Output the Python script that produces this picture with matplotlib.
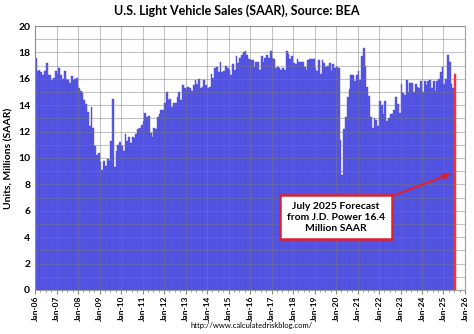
import matplotlib.pyplot as plt
import numpy as np

plt.rcParams['font.family'] = ['Lato', 'DejaVu Sans']

# monthly light vehicle sales, SAAR, millions (Jan..Dec)
s2006 = [17.6, 16.6, 16.7, 16.5, 16.3, 16.6, 17.2, 16.3, 16.3, 15.9, 16.1, 16.6]
s2007 = [16.4, 16.8, 16.3, 16.0, 16.6, 16.0, 15.9, 15.7, 16.2, 15.9, 16.0, 16.1]
s2008 = [15.3, 15.1, 14.9, 14.4, 14.1, 13.5, 12.4, 13.9, 12.3, 10.9, 10.2, 10.4]
s2009 = [9.7, 9.1, 9.8, 9.4, 9.9, 9.8, 11.3, 14.5, 9.3, 10.5, 11.0, 11.2]
s2010 = [10.9, 10.5, 11.8, 11.3, 11.6, 11.1, 11.6, 11.5, 11.8, 12.2, 12.3, 12.5]
s2011 = [12.8, 13.4, 13.1, 13.2, 11.9, 11.6, 12.3, 12.2, 13.1, 13.3, 13.6, 13.6]
s2012 = [14.2, 15.0, 14.4, 14.5, 13.9, 14.2, 14.2, 14.6, 15.0, 14.4, 15.5, 15.3]
s2013 = [15.2, 15.4, 15.3, 15.1, 15.5, 15.9, 15.6, 16.0, 15.3, 15.4, 15.9, 15.5]
s2014 = [15.3, 15.4, 16.4, 16.1, 16.8, 16.9, 16.5, 17.3, 16.5, 16.6, 17.0, 16.8]
s2015 = [16.7, 16.3, 17.1, 16.7, 17.7, 17.2, 17.6, 17.8, 18.0, 18.1, 17.8, 17.5]
s2016 = [17.4, 17.4, 16.9, 17.3, 17.3, 16.7, 17.7, 17.3, 17.6, 17.8, 17.6, 18.1]
s2017 = [17.6, 17.5, 16.8, 16.9, 16.8, 16.7, 16.8, 16.7, 18.1, 17.9, 17.5, 17.7]
s2018 = [17.2, 17.1, 17.5, 17.3, 17.3, 17.3, 16.9, 16.7, 17.4, 17.5, 17.5, 17.5]
s2019 = [16.8, 16.6, 17.4, 16.4, 17.4, 17.2, 16.9, 17.0, 17.2, 16.6, 17.1, 16.8]
s2020 = [16.9, 16.8, 11.4, 8.7, 12.2, 13.1, 14.6, 15.2, 16.3, 16.3, 15.8, 16.3]
s2021 = [16.6, 15.9, 17.7, 18.3, 17.0, 15.4, 14.7, 13.1, 12.3, 13.0, 12.9, 12.4]
s2022 = [14.3, 14.0, 13.3, 14.3, 12.8, 13.0, 13.3, 13.3, 13.6, 14.6, 14.1, 13.4]
s2023 = [15.6, 14.9, 14.8, 15.9, 15.0, 15.7, 15.7, 15.0, 15.6, 15.4, 15.3, 15.8]
s2024 = [15.0, 15.8, 15.5, 15.8, 15.9, 15.3, 15.8, 15.1, 15.8, 16.0, 16.5, 16.9]
s2025 = [15.6, 16.0, 17.8, 17.3, 15.6, 15.3]
forecast = 16.4  # July 2025, J.D. Power

tick_labels = ['Jan-06', 'Jan-07', 'Jan-08', 'Jan-09', 'Jan-10', 'Jan-11', 'Jan-12',
               'Jan-13', 'Jan-14', 'Jan-15', 'Jan-16', 'Jan-17', 'Jan-18', 'Jan-19',
               'Jan-20', 'Jan-21', 'Jan-22', 'Jan-23', 'Jan-24', 'Jan-25', 'Jan-26']

sales = np.array(s2006 + s2007 + s2008 + s2009 + s2010 + s2011 + s2012 + s2013 + s2014 +
                 s2015 + s2016 + s2017 + s2018 + s2019 + s2020 + s2021 + s2022 + s2023 +
                 s2024 + s2025)
months = np.arange(len(sales))

fig = plt.figure(figsize=(4.74, 3.34), dpi=100)
ax = fig.add_axes([0.074, 0.132, 0.907, 0.79])

blue = '#5959e8'
ax.bar(months, sales, width=1.0, align='edge', color=blue, edgecolor='#4a4ad8', linewidth=0.3, zorder=2)
ax.bar([len(sales)], [forecast], width=1.0, align='edge', color='#ff3030', edgecolor='#ff3030',
       linewidth=0.3, zorder=2)

ax.set_xlim(0, 240)
ax.set_ylim(0, 20)
ax.set_xticks(np.arange(0, 241, 12))
ax.set_xticklabels(tick_labels, rotation=90, fontsize=6, fontweight='bold')
ax.set_xticks(np.arange(0, 241, 3), minor=True)
ax.set_yticks(np.arange(0, 21, 2))
ax.set_yticks(np.arange(0, 21, 1), minor=True)
ax.tick_params(axis='y', which='both', length=0, labelsize=7.5)
ax.tick_params(axis='x', which='major', length=3, pad=1, color='#888888')
ax.tick_params(axis='x', which='minor', length=1.5, color='#888888')
for lbl in ax.get_yticklabels():
    lbl.set_fontweight('bold')

ax.grid(True, which='major', axis='x', color='#7a7a7a', alpha=0.45, linewidth=0.8, zorder=3)
ax.grid(True, which='both', axis='y', color='#7a7a7a', alpha=0.45, linewidth=0.8, zorder=3)
ax.set_axisbelow(False)
for sp in ax.spines.values():
    sp.set_color('#a0a0a0')
    sp.set_linewidth(0.8)

ax.set_ylabel('Units, Millions (SAAR)', fontsize=7.5, fontweight='bold', labelpad=3)
fig.text(0.5, 0.968, 'U.S. Light Vehicle Sales (SAAR), Source: BEA', ha='center', va='center',
         fontsize=9, fontweight='bold')
fig.text(0.53, 0.025, 'http://www.calculatedriskblog.com/', ha='center', va='center', fontsize=5.5)

ax.annotate('July 2025 Forecast\nfrom J.D. Power 16.4\nMillion SAAR',
            xy=(232, 8.8), xytext=(168, 5.5), ha='center', va='center',
            fontsize=7.5, fontweight='bold', zorder=5, linespacing=1.25,
            bbox=dict(boxstyle='square,pad=0.65', fc='white', ec='#e0202a', lw=1.8),
            arrowprops=dict(arrowstyle='-|>', color='#e0202a', lw=1.5, mutation_scale=10,
                            shrinkA=0, shrinkB=0))

fig.savefig('out.png', dpi=100)
